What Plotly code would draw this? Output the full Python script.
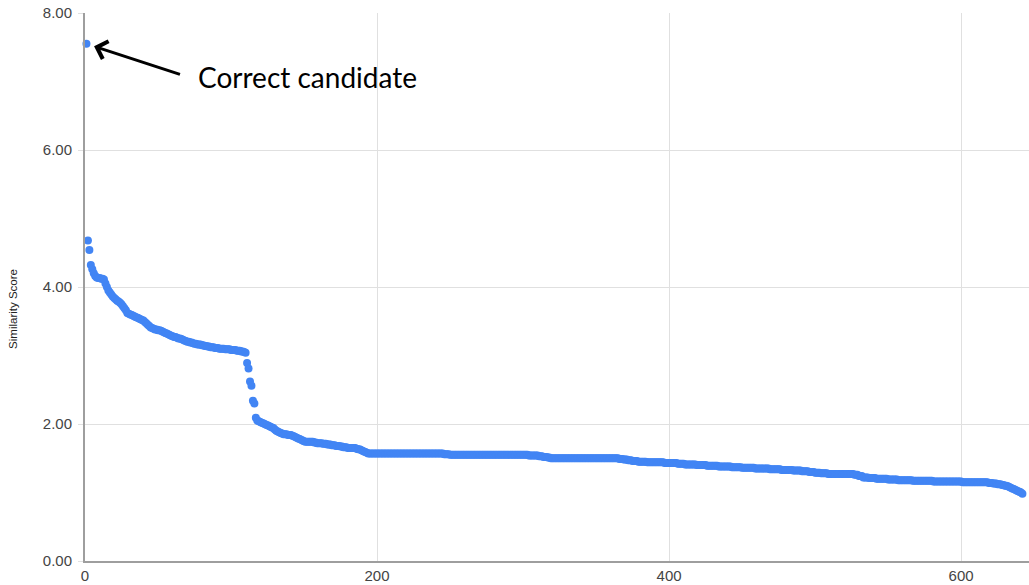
import plotly.graph_objects as go

# Scores, one per candidate (rank 1..195)
HEAD_SCORES = [
    7.55, 4.68, 4.54, 4.32, 4.26, 4.20, 4.16, 4.14, 4.13, 4.13,
    4.12, 4.12, 4.11, 4.05, 4.00, 3.95, 3.92, 3.89, 3.86, 3.84,
    3.82, 3.80, 3.79, 3.77, 3.75, 3.72, 3.69, 3.66, 3.62, 3.61,
    3.60, 3.59, 3.58, 3.57, 3.56, 3.55, 3.54, 3.53, 3.52, 3.51,
    3.49, 3.47, 3.45, 3.43, 3.41, 3.40, 3.39, 3.38, 3.38, 3.37,
    3.37, 3.36, 3.35, 3.34, 3.33, 3.32, 3.31, 3.30, 3.29, 3.28,
    3.27, 3.27, 3.26, 3.25, 3.25, 3.24, 3.23, 3.22, 3.21, 3.20,
    3.20, 3.19, 3.19, 3.18, 3.17, 3.17, 3.16, 3.16, 3.16, 3.15,
    3.15, 3.14, 3.14, 3.13, 3.13, 3.12, 3.12, 3.12, 3.11, 3.11,
    3.11, 3.10, 3.10, 3.10, 3.10, 3.09, 3.09, 3.09, 3.09, 3.08,
    3.08, 3.08, 3.08, 3.07, 3.07, 3.07, 3.06, 3.06, 3.05, 3.04,
    2.89, 2.81, 2.62, 2.56, 2.34, 2.30, 2.09, 2.05, 2.04, 2.03,
    2.02, 2.01, 2.00, 1.99, 1.98, 1.97, 1.96, 1.95, 1.94, 1.92,
    1.90, 1.89, 1.88, 1.87, 1.86, 1.85, 1.85, 1.85, 1.84, 1.84,
    1.84, 1.83, 1.82, 1.81, 1.80, 1.79, 1.78, 1.77, 1.76, 1.75,
    1.74, 1.74, 1.74, 1.74, 1.74, 1.74, 1.73, 1.73, 1.72, 1.72,
    1.72, 1.72, 1.71, 1.71, 1.71, 1.70, 1.70, 1.70, 1.69, 1.69,
    1.69, 1.68, 1.68, 1.68, 1.67, 1.67, 1.66, 1.66, 1.66, 1.65,
    1.65, 1.65, 1.65, 1.65, 1.65, 1.64, 1.63, 1.63, 1.62, 1.61,
    1.60, 1.59, 1.58, 1.57, 1.57,
]

# Long flat tail read as runs: score value and how many candidates share it
TAIL_VALUES = [
    1.57, 1.56, 1.55, 1.54, 1.53, 1.52, 1.51, 1.50, 1.49, 1.48,
    1.47, 1.46, 1.45, 1.44, 1.43, 1.42, 1.41, 1.40, 1.39, 1.38,
    1.37, 1.36, 1.35, 1.34, 1.33, 1.32, 1.31, 1.30, 1.29, 1.28,
    1.27, 1.26, 1.24, 1.22, 1.21, 1.20, 1.19, 1.18, 1.17, 1.16,
    1.15, 1.14, 1.13, 1.12, 1.11, 1.10, 1.09, 1.08, 1.07, 1.06,
    1.05, 1.04, 1.03, 1.02, 1.01, 1.00, 0.98,
]
TAIL_COUNTS = [
    50, 4, 54, 7, 3, 3, 2, 47, 3, 3,
    3, 4, 6, 12, 9, 5, 8, 7, 8, 9,
    7, 9, 10, 8, 8, 6, 5, 4, 4, 5,
    18, 3, 3, 4, 5, 8, 7, 10, 14, 20,
    18, 3, 3, 3, 2, 2, 1, 1, 1, 1,
    1, 1, 1, 1, 1, 1, 1,
]

X_TICKS = [0, 200, 400, 600]
Y_TICKS = [0, 2, 4, 6, 8]
Y_TITLE = "Similarity Score"
ANNOTATION_TEXT = "Correct candidate"

scores = list(HEAD_SCORES)
for v, c in zip(TAIL_VALUES, TAIL_COUNTS):
    scores.extend([v] * c)
ranks = list(range(1, len(scores) + 1))

fig = go.Figure()
fig.add_trace(go.Scatter(
    x=ranks, y=scores, mode="markers",
    marker=dict(color="#4285F4", size=8, line=dict(width=0)),
    cliponaxis=False, showlegend=False,
))

axis_font = dict(family="Liberation Sans, Arial, sans-serif", size=15, color="#444444")

fig.update_layout(
    width=1029, height=585,
    margin=dict(l=85, r=0, t=13, b=24, autoexpand=False),
    paper_bgcolor="white", plot_bgcolor="white",
    xaxis=dict(
        range=[0, 646.5], tickvals=X_TICKS, ticktext=[str(t) for t in X_TICKS],
        showgrid=True, gridcolor="#e0e0e0", gridwidth=1,
        zeroline=False, showline=True, linecolor="#9e9e9e", linewidth=1.5,
        ticks="", tickfont=axis_font, ticklabelstandoff=0, automargin=False,
    ),
    yaxis=dict(
        range=[0, 8], tickvals=Y_TICKS, tickformat=".2f",
        showgrid=True, gridcolor="#e0e0e0", gridwidth=1,
        zeroline=False, showline=True, linecolor="#9e9e9e", linewidth=2,
        ticks="outside", ticklen=5, tickcolor="#e0e0e0",
        tickfont=axis_font, ticklabelstandoff=3, automargin=False,
    ),
)

# Y axis title (placed slightly below the plot's middle, as in the original)
fig.add_annotation(
    x=-0.0763, y=0.46, xref="paper", yref="paper",
    text=Y_TITLE, showarrow=False, textangle=-90,
    xanchor="center", yanchor="middle",
    font=dict(family="Liberation Sans, Arial, sans-serif", size=11.5, color="#222222"),
)

# Arrow pointing at the top-ranked (correct) candidate
fig.add_annotation(
    x=ranks[0], y=scores[0], xref="x", yref="y",
    text="", showarrow=True, arrowhead=4, arrowsize=1.2, arrowwidth=3,
    arrowcolor="black", ax=95, ay=31, standoff=8,
)
fig.add_annotation(
    x=ranks[0], y=scores[0], xref="x", yref="y",
    text=ANNOTATION_TEXT, showarrow=False,
    xanchor="left", yanchor="middle", xshift=110, yshift=-33,
    font=dict(family="Lato, sans-serif", size=28, color="black"),
)

fig.write_html("out.html", config={"displayModeBar": False},
               post_script="document.body.style.margin='0';")
